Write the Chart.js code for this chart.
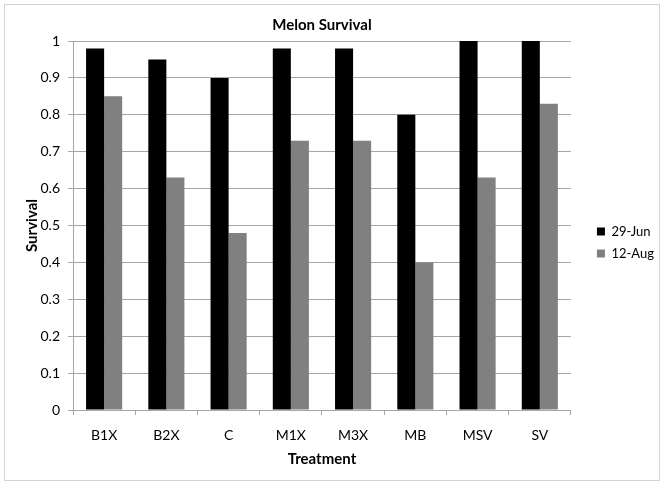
<!DOCTYPE html>
<html>
<head>
<meta charset="utf-8">
<script src="https://cdn.jsdelivr.net/npm/chart.js@4"></script>
<style>
  body { margin: 0; background: #fff; }
  #frame { position: absolute; left: 4px; top: 4px; width: 654px; height: 475px; border: 1px solid #d4d4d4; }
</style>
</head>
<body>
<div id="frame"><canvas id="chart"></canvas></div>
<script>
// données
const treatments = ['B1X', 'B2X', 'C', 'M1X', 'M3X', 'MB', 'MSV', 'SV'];
const survivalJun = [0.98, 0.95, 0.90, 0.98, 0.98, 0.80, 1.00, 1.00];
const survivalAug = [0.85, 0.63, 0.48, 0.73, 0.73, 0.40, 0.63, 0.83];
const seriesNames = ['29-Jun', '12-Aug'];
const yTickLabels = ['0', '0.1', '0.2', '0.3', '0.4', '0.5', '0.6', '0.7', '0.8', '0.9', '1'];

const font = 'Lato, "Open Sans", sans-serif';

new Chart(document.getElementById('chart'), {
    type: 'bar',
    data: {
        labels: treatments,
        datasets: [
            { label: seriesNames[0], data: survivalJun, backgroundColor: '#000000' },
            { label: seriesNames[1], data: survivalAug, backgroundColor: '#808080' }
        ]
    },
    options: {
        responsive: true,
        maintainAspectRatio: false,
        animation: false,
        layout: { padding: { left: 14, right: -5, top: 0, bottom: 0 } },
        datasets: { bar: { categoryPercentage: 0.58, barPercentage: 1 } },
        plugins: {
            title: {
                display: true,
                text: 'Melon Survival',
                fullSize: false,
                color: '#000',
                font: { family: font, size: 15, weight: 'bold' },
                padding: { top: 11, bottom: 7 }
            },
            legend: {
                position: 'right',
                labels: {
                    color: '#000',
                    font: { family: font, size: 13 },
                    boxWidth: 8,
                    boxHeight: 8,
                    padding: 9
                }
            },
            tooltip: { enabled: false }
        },
        scales: {
            x: {
                grid: { display: true, drawOnChartArea: false, tickLength: 5, color: '#a6a6a6' },
                border: { color: '#a6a6a6' },
                ticks: { color: '#000', font: { family: font, size: 14 }, padding: 12 },
                title: { display: true, text: 'Treatment', color: '#000', font: { family: font, size: 15, weight: 'bold' }, padding: { top: 6, bottom: 12 } },
                afterFit: scale => { scale.height = 70; }
            },
            y: {
                min: 0,
                max: 1,
                ticks: {
                    stepSize: 0.1,
                    color: '#000',
                    font: { family: font, size: 14 },
                    padding: 8,
                    callback: (v, i) => yTickLabels[i]
                },
                grid: { color: '#a6a6a6', tickLength: 5 },
                border: { color: '#a6a6a6' },
                title: { display: true, text: 'Survival', color: '#000', font: { family: font, size: 15, weight: 'bold' } },
                afterFit: scale => { scale.width = 54; }
            },
            // espace vide entre la zone du graphique et la légende
            gap: {
                type: 'linear',
                position: 'right',
                ticks: { display: false },
                grid: { display: false },
                border: { display: false },
                afterFit: scale => { scale.width = 17; }
            }
        }
    }
});
</script>
</body>
</html>
